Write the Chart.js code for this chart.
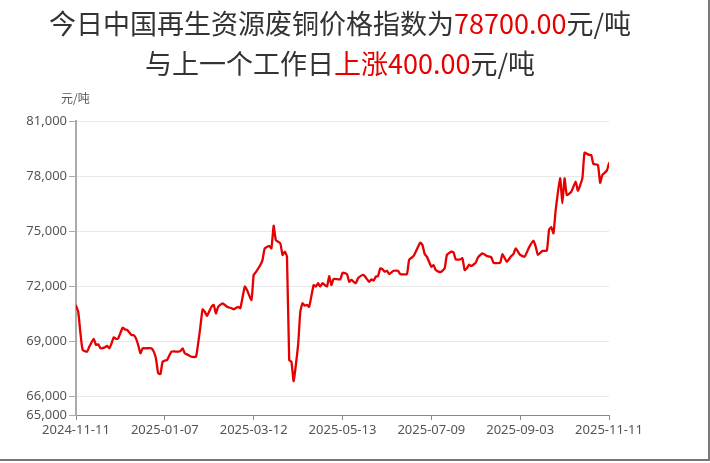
<!DOCTYPE html>
<html>
<head>
<meta charset="utf-8">
<script src="https://cdn.jsdelivr.net/npm/chart.js@4/dist/chart.umd.min.js"></script>
<style>
  html, body { margin: 0; padding: 0; background: #fff; }
  body { width: 710px; height: 463px; position: relative; overflow: hidden;
         font-family: "Noto Sans CJK SC", "Noto Sans", sans-serif; }
  #frame { position: absolute; left: 0; top: 0; width: 708px; height: 459px;
           border-right: 2px solid #777; border-bottom: 2px solid #777; }
  #title { position: absolute; left: 0; top: 3px; width: 680px; text-align: center;
           font-size: 27px; line-height: 40px; color: #333; }
  #title .red { color: #e60000; }
  #unit { position: absolute; left: 61px; top: 89px; font-size: 12px; color: #555; }
  #wrap { position: absolute; left: 0; top: 0; width: 710px; height: 463px; }
</style>
</head>
<body>
<div id="frame"></div>
<div id="wrap"><canvas id="line-chart" width="710" height="463"></canvas></div>
<div id="title">
  <div>今日中国再生资源废铜价格指数为<span class="red">78700.00</span>元/吨</div>
  <div>与上一个工作日<span class="red">上涨400.00</span>元/吨</div>
</div>
<div id="unit">元/吨</div>
<script>
// tick labels (one every 40 working days)
let dateLabels = ["2024-11-11", "2025-01-07", "2025-03-12", "2025-05-13", "2025-07-09", "2025-09-03", "2025-11-11"];
let yTicks = [65000, 66000, 69000, 72000, 75000, 78000, 81000];

let dayIdx = [0, 1, 2, 3, 5, 6, 8, 9, 10, 11, 13, 14, 15, 16, 17, 18, 19, 21, 22, 23,
  25, 26, 27, 28, 29, 30, 31, 34, 35, 36, 37, 38, 39, 40, 41, 43, 46, 47, 48, 49,
  50, 52, 54, 55, 56, 57, 58, 59, 61, 62, 63, 64, 66, 68, 70, 71, 73, 74, 76, 77,
  79, 80, 81, 83, 84, 85, 87, 88, 89, 90, 92, 93, 94, 95, 96, 97, 98, 100, 101, 102,
  103, 104, 105, 107, 108, 109, 110, 111, 113, 114, 115, 116, 119, 120, 122, 123, 124, 126, 127, 129,
  130, 132, 133, 134, 135, 136, 137, 138, 139, 140, 141, 143, 145, 146, 149, 150, 152, 153, 155, 156,
  157, 158, 160, 161, 162, 164, 166, 167, 169, 170, 171, 173, 174, 175, 176, 177, 178, 180, 181, 183,
  185, 187, 188, 191, 192, 194, 196, 197, 198, 200, 202, 204, 206, 207, 208, 210, 212, 213, 214, 215,
  216, 218, 219, 220, 221, 223, 225, 226, 228, 229, 231, 232, 233, 235, 236, 237, 239, 240];
let price = [70950, 70620, 69460, 68540, 68450, 68720, 69140, 68810, 68850, 68630, 68680, 68760, 68630, 68900, 69230, 69140, 69170, 69750, 69660, 69630,
  69350, 69350, 69170, 68810, 68360, 68630, 68630, 68630, 68450, 68080, 67270, 67230, 67900, 67960, 67990, 68450, 68450, 68480, 68630, 68360,
  68300, 68170, 68170, 68900, 69800, 70750, 70620, 70400, 70890, 70990, 70530, 70890, 71080, 70890, 70810, 70750, 70890, 70810, 71990, 71800,
  71260, 72620, 72770, 73160, 73440, 74070, 74200, 74070, 75300, 74520, 74340, 73710, 73890, 73620, 67990, 67900, 66850, 68800, 70620, 71080,
  70950, 70990, 70890, 72070, 71990, 72170, 71990, 72170, 71990, 72560, 72070, 72400, 72380, 72740, 72670, 72250, 72350, 72170, 72440, 72620,
  72560, 72250, 72380, 72310, 72530, 72560, 72980, 72930, 72800, 72850, 72670, 72850, 72850, 72670, 72670, 73440, 73650, 73890, 74380, 74250,
  73760, 73620, 73070, 73160, 72890, 72770, 72980, 73710, 73890, 73850, 73470, 73470, 73530, 72890, 72980, 73180, 73110, 73290, 73580, 73800,
  73650, 73580, 73290, 73290, 73760, 73340, 73650, 73760, 74070, 73710, 73620, 74120, 74490, 74160, 73710, 73930, 73940, 75070, 75220, 74890,
  76160, 77880, 76520, 77880, 76970, 77150, 77700, 77210, 77880, 79280, 79150, 79150, 78660, 78610, 77640, 78060, 78300, 78700];

let points = dayIdx.map(function (d, i) { return { x: d, y: price[i] }; });

var ctx = document.getElementById('line-chart');
var myChart = new Chart(ctx, {
  type: 'line',
  data: {
    datasets: [{
      data: points,
      borderColor: "#e60000",
      borderWidth: 2.3,
      borderJoinStyle: 'round',
      borderCapStyle: 'round',
      pointRadius: 0,
      tension: 0.15,
      fill: false
    }]
  },
  options: {
    responsive: false,
    animation: false,
    layout: { padding: { left: 0, right: 101, top: 121, bottom: 0 } },
    plugins: { legend: { display: false }, tooltip: { enabled: false } },
    scales: {
      x: {
        type: 'linear',
        min: 0,
        max: 240,
        afterBuildTicks: function (scale) {
          scale.ticks = dateLabels.map(function (d, i) { return { value: i * 40 }; });
        },
        afterFit: function (scale) { scale.height = 48; },
        ticks: {
          autoSkip: false,
          maxRotation: 0,
          padding: 2,
          color: '#555',
          font: { size: 13, family: '"Noto Sans", sans-serif' },
          callback: function (v) { return dateLabels[Math.round(v / 40)]; }
        },
        grid: { drawOnChartArea: false, drawTicks: true, tickLength: 5, tickColor: '#888' },
        border: { color: '#888', width: 1 }
      },
      y: {
        min: 65000,
        max: 81000,
        afterBuildTicks: function (scale) {
          scale.ticks = yTicks.map(function (v) { return { value: v }; });
        },
        afterFit: function (scale) { scale.width = 76; },
        ticks: {
          padding: 2,
          color: '#555',
          font: { size: 13, family: '"Noto Sans", sans-serif' },
          callback: function (v) { return v.toLocaleString('en-US'); }
        },
        grid: { color: '#e8e8e8', tickColor: '#aaa', tickLength: 7 },
        border: { color: '#aaa', width: 2 }
      }
    }
  }
});
</script>
</body>
</html>
